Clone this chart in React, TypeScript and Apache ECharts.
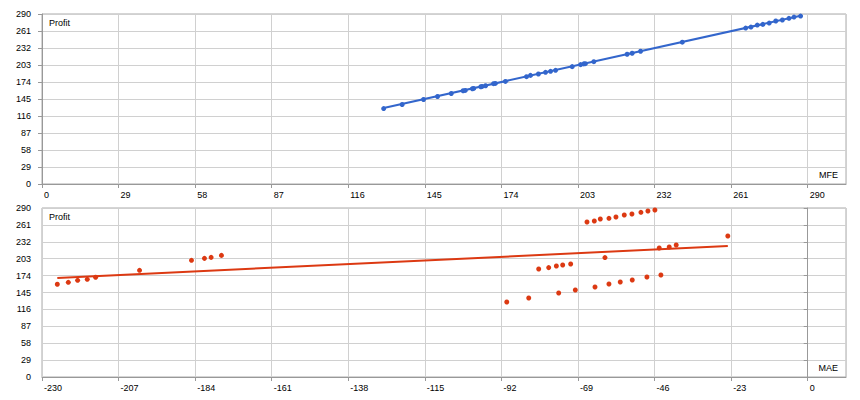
import React, { useEffect, useRef } from 'react';
import * as echarts from 'echarts';

// trades: profit vs MFE (top) and MAE (bottom)
const profit = [
  128.7, 135.6, 144.1, 149.3, 154.4, 159.1, 159.6, 162.5, 163.0, 165.9,
  166.4, 167.6, 171.1, 171.6, 175.0, 183.1, 185.3, 187.7, 190.5, 192.2,
  193.9, 200.2, 203.6, 204.9, 205.3, 208.7, 221.3, 223.1, 226.5, 241.9,
  266.0, 267.7, 271.1, 272.3, 274.5, 278.0, 279.7, 282.6, 284.8, 286.5,
];
const mfe = [
  129.4, 136.4, 144.5, 149.8, 155.0, 159.5, 160.3, 163.0, 163.5, 166.2,
  166.7, 168.0, 171.0, 171.7, 175.5, 183.5, 185.0, 188.0, 190.7, 192.6,
  194.5, 200.8, 204.0, 205.2, 205.8, 209.0, 221.6, 223.5, 226.7, 242.5,
  266.5, 268.5, 270.9, 273.0, 275.4, 277.9, 280.4, 282.9, 284.8, 287.3,
];
const mae = [
  -90.4, -83.8, -74.8, -69.8, -63.9, -225.4, -59.7, -222.1, -56.3, -219.3,
  -52.7, -216.4, -213.9, -48.3, -44.1, -200.7, -80.8, -77.8, -75.5, -73.6,
  -71.2, -185.1, -181.2, -60.9, -179.2, -176.1, -44.6, -41.6, -39.5, -24.0,
  -66.3, -64.1, -62.3, -59.7, -57.6, -55.1, -52.8, -50.1, -48.0, -45.9,
];
// trend line ends
const mfeTrend = [[129.4, 129.5], [287.3, 287.0]];
const maeTrend = [[-225.4, 169.9], [-24.0, 224.8]];

const profitTicks = { min: 0, max: 290, interval: 29 };
const mfeTicks = { min: 0, max: 304.5, interval: 29 };
const maeTicks = { min: -230, max: 11.5, interval: 23 };

const BLUE = '#3366CC';
const RED = '#DC3912';
const FONT = 'Liberation Sans';

const xAxisBase = (idx: number, ticks: any) => ({
  type: 'value' as const,
  gridIndex: idx,
  ...ticks,
  axisLine: { show: true, onZero: false, lineStyle: { color: '#999' } },
  axisTick: { show: true, length: 4, lineStyle: { color: '#999' } },
  axisLabel: {
    showMaxLabel: false,
    align: 'left',
    margin: 6,
    padding: [0, 0, 0, 2],
    color: '#000',
    fontSize: 9,
    fontFamily: FONT,
  },
  splitLine: { show: true, lineStyle: { color: '#d0d0d0' } },
});

const yAxisBase = (idx: number) => ({
  type: 'value' as const,
  gridIndex: idx,
  ...profitTicks,
  axisLine: { show: true, lineStyle: { color: '#999' } },
  axisTick: { show: true, length: 4, lineStyle: { color: '#999' } },
  axisLabel: { margin: 11, color: '#000', fontSize: 9, fontFamily: FONT },
  splitLine: { show: true, lineStyle: { color: '#d0d0d0' } },
});

const App: React.FC = () => {
  const chartRef = useRef<HTMLDivElement>(null);

  useEffect(() => {
    document.body.style.margin = '0';
    if (!chartRef.current) return;
    const chart = echarts.init(chartRef.current, null, { renderer: 'svg' });

    const label = (text: string, x: number, y: number, align: string) => ({
      type: 'text',
      x,
      y,
      style: {
        text,
        fill: '#000',
        font: `9px "${FONT}"`,
        textAlign: align,
        textVerticalAlign: 'middle',
      },
    });

    const option: echarts.EChartsOption = {
      animation: false,
      backgroundColor: '#fff',
      grid: [
        { left: 42, right: 14, top: 14, height: 170, show: true, borderColor: '#aaa', backgroundColor: 'transparent' },
        { left: 42, right: 14, top: 208, height: 169, show: true, borderColor: '#aaa', backgroundColor: 'transparent' },
      ],
      xAxis: [xAxisBase(0, mfeTicks), xAxisBase(1, maeTicks)] as any,
      yAxis: [yAxisBase(0), yAxisBase(1)] as any,
      graphic: [
        label('Profit', 49, 23, 'left'),
        label('MFE', 838, 175, 'right'),
        label('Profit', 49, 217, 'left'),
        label('MAE', 838, 368, 'right'),
      ] as any,
      series: [
        {
          type: 'line',
          xAxisIndex: 0,
          yAxisIndex: 0,
          data: mfeTrend,
          showSymbol: false,
          lineStyle: { color: BLUE, width: 2 },
        },
        {
          type: 'scatter',
          xAxisIndex: 0,
          yAxisIndex: 0,
          data: mfe.map((v, i) => [v, profit[i]]),
          symbolSize: 5,
          itemStyle: { color: BLUE, opacity: 1 },
        },
        {
          type: 'line',
          xAxisIndex: 1,
          yAxisIndex: 1,
          data: maeTrend,
          showSymbol: false,
          lineStyle: { color: RED, width: 2 },
        },
        {
          type: 'scatter',
          xAxisIndex: 1,
          yAxisIndex: 1,
          data: mae.map((v, i) => [v, profit[i]]),
          symbolSize: 5,
          itemStyle: { color: RED, opacity: 1 },
        },
      ],
    };

    chart.setOption(option);
    return () => {
      chart.dispose();
    };
  }, []);

  return <div ref={chartRef} style={{ width: 860, height: 400 }} />;
};

export default App;
